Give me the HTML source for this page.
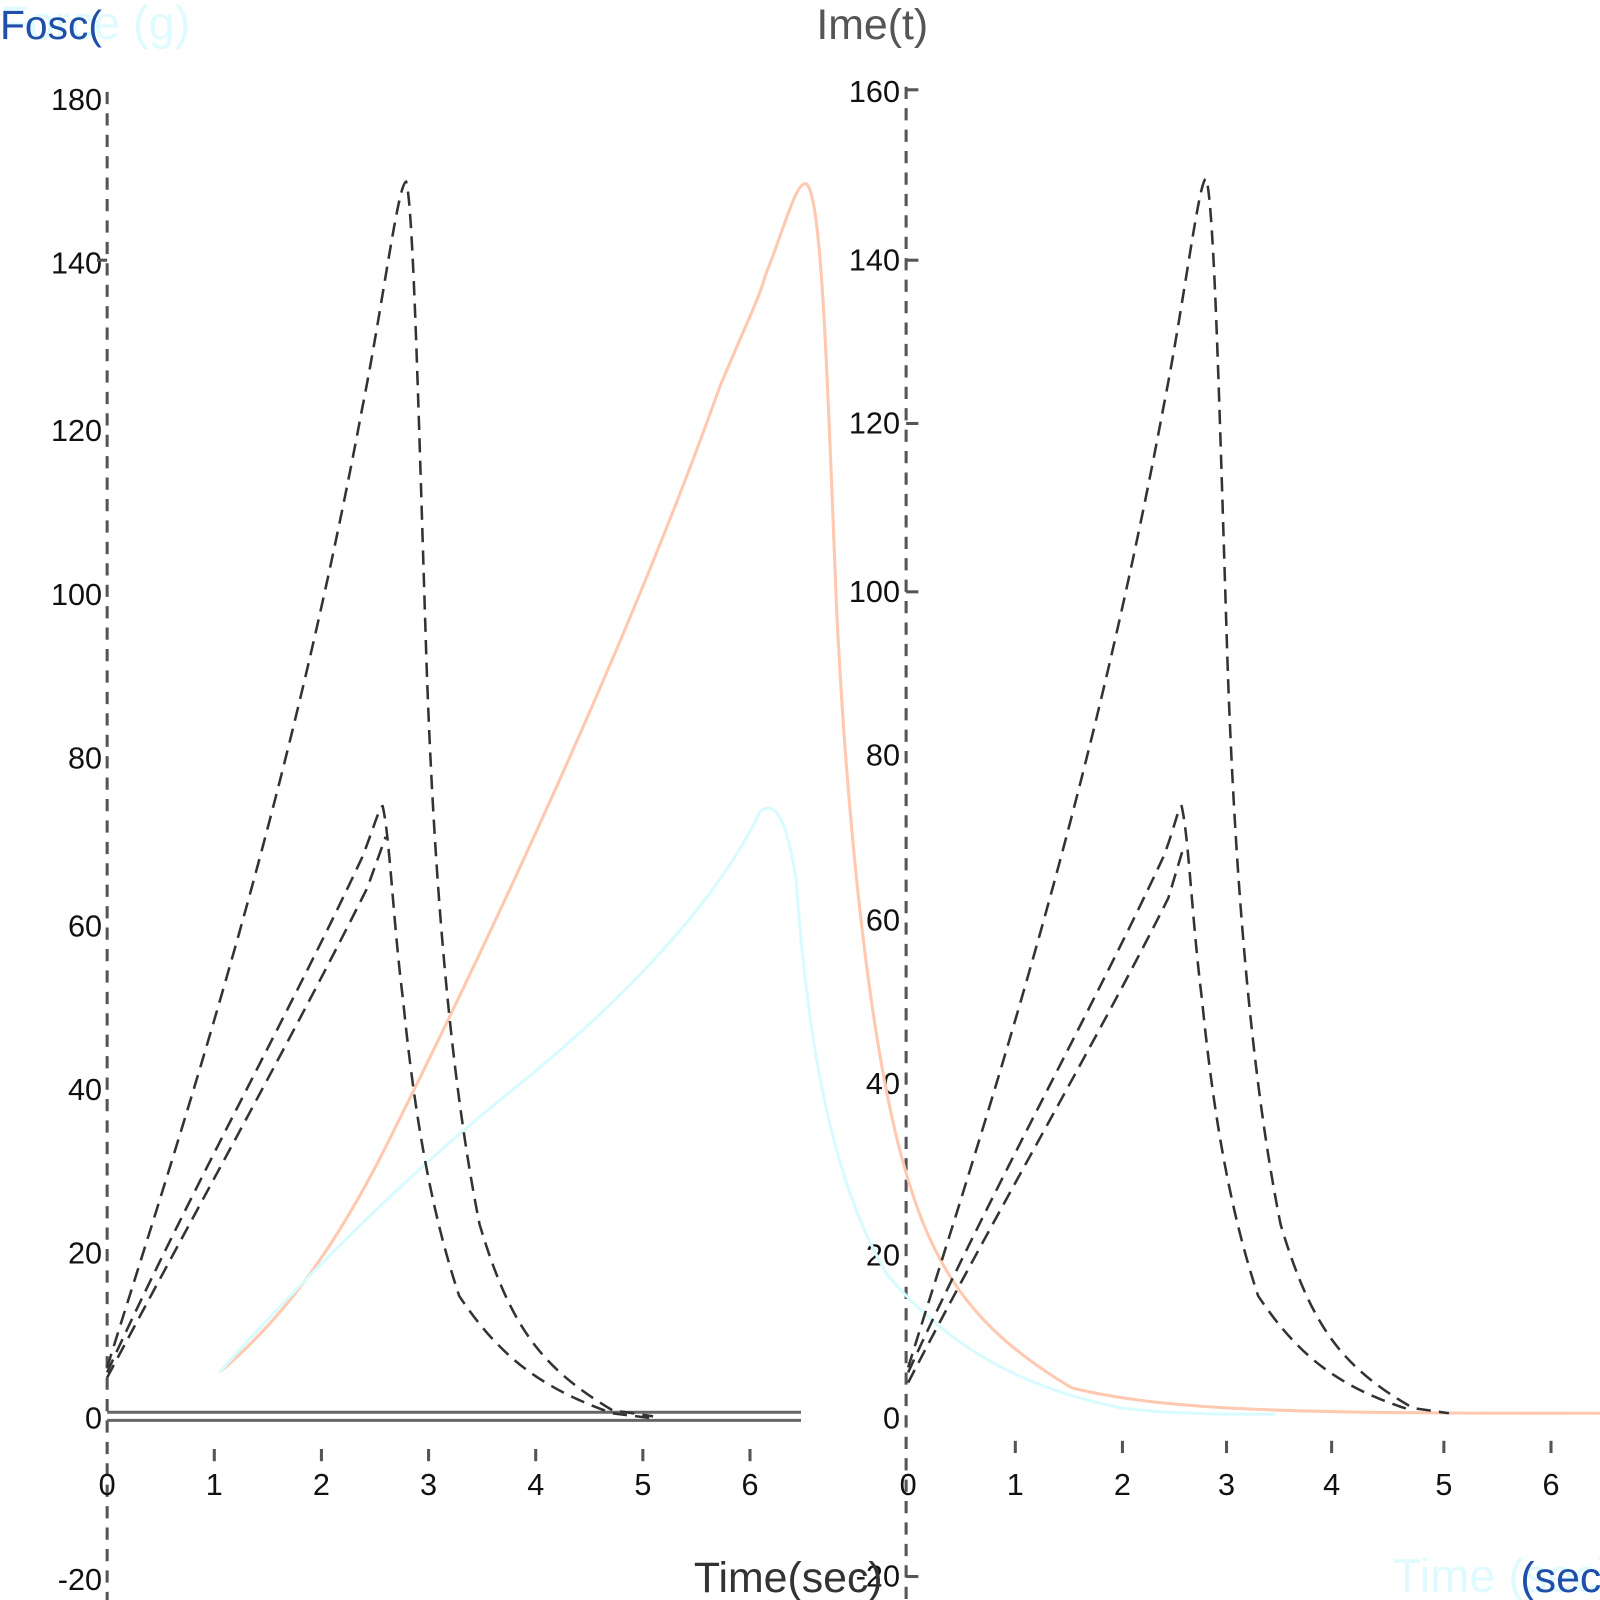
<!DOCTYPE html>
<html><head><meta charset="utf-8"><style>
body{margin:0;background:#fff}
svg{display:block;font-family:"Liberation Sans",sans-serif}
</style></head><body>
<svg width="1600" height="1600" viewBox="0 0 1600 1600" xmlns="http://www.w3.org/2000/svg">
<rect width="1600" height="1600" fill="#fff"/>
<g transform="scale(1.0204)">
<text x="0" y="38" font-size="46" fill="#e0fbff">Force (g)</text>
<text x="0" y="38" font-size="40" fill="#1f4fa8">Fosc(</text>
<text x="800" y="38" font-size="42" fill="#555">Ime(t)</text>
<g stroke="#555" stroke-width="3" stroke-dasharray="12,9" fill="none">
<line x1="105" y1="90" x2="105" y2="1600"/>
<line x1="888" y1="85" x2="888" y2="1600"/>
</g>
<g stroke="#666" stroke-width="3">
<line x1="105" y1="1384" x2="785" y2="1384"/>
<line x1="105" y1="1392" x2="785" y2="1392"/>
</g>
<g font-size="30" fill="#111" text-anchor="end">
<text x="100" y="108">180</text><text x="100" y="268">140</text><text x="100" y="432">120</text>
<text x="100" y="593">100</text><text x="100" y="753">80</text><text x="100" y="918">60</text>
<text x="100" y="1078">40</text><text x="100" y="1238">20</text><text x="100" y="1400">0</text>
<text x="100" y="1558">-20</text>
<text x="882" y="100">160</text><text x="882" y="265">140</text><text x="882" y="425">120</text>
<text x="882" y="590">100</text><text x="882" y="750">80</text><text x="882" y="912">60</text>
<text x="882" y="1072">40</text><text x="882" y="1240">20</text><text x="882" y="1400">0</text>
<text x="882" y="1555">-20</text>
</g>
<g stroke="#555" stroke-width="3">
<line x1="888" y1="88" x2="900" y2="88"/><line x1="888" y1="255" x2="900" y2="255"/>
<line x1="888" y1="415" x2="900" y2="415"/><line x1="888" y1="580" x2="900" y2="580"/>
<line x1="888" y1="1545" x2="900" y2="1545"/><line x1="95" y1="255" x2="105" y2="255"/>
</g>
<g font-size="30" fill="#111" text-anchor="middle">
<text x="105" y="1465">0</text><text x="210" y="1465">1</text><text x="315" y="1465">2</text>
<text x="420" y="1465">3</text><text x="525" y="1465">4</text><text x="630" y="1465">5</text>
<text x="735" y="1465">6</text>
<text x="890" y="1465">0</text><text x="995" y="1465">1</text><text x="1100" y="1465">2</text>
<text x="1202" y="1465">3</text><text x="1305" y="1465">4</text><text x="1415" y="1465">5</text>
<text x="1520" y="1465">6</text>
</g>
<g stroke="#555" stroke-width="3">
<line x1="210" y1="1420" x2="210" y2="1432"/><line x1="315" y1="1420" x2="315" y2="1432"/>
<line x1="420" y1="1420" x2="420" y2="1432"/><line x1="525" y1="1420" x2="525" y2="1432"/>
<line x1="630" y1="1420" x2="630" y2="1432"/><line x1="735" y1="1420" x2="735" y2="1432"/>
<line x1="995" y1="1412" x2="995" y2="1424"/><line x1="1100" y1="1412" x2="1100" y2="1424"/>
<line x1="1202" y1="1412" x2="1202" y2="1424"/><line x1="1305" y1="1412" x2="1305" y2="1424"/>
<line x1="1415" y1="1412" x2="1415" y2="1424"/><line x1="1520" y1="1412" x2="1520" y2="1424"/>
</g>
<text x="680" y="1560" font-size="42" fill="#333">Time(sec)</text>
<text x="1365" y="1560" font-size="46" fill="#e0fbff">Time (sec)</text>
<text x="1490" y="1560" font-size="42" fill="#1f4fa8">(sec)</text>
<path d="M215,1345 C280,1290 330,1220 380,1120 C480,920 620,620 705,380 C730,320 745,290 750,270 C770,220 780,178 790,180 C805,190 810,350 820,600 C830,800 850,1000 880,1120 C910,1240 950,1300 1050,1360 C1150,1385 1300,1385 1600,1385" fill="none" stroke="#ffc8b0" stroke-width="3"/>
<path d="M215,1345 C300,1250 400,1150 500,1070 C600,990 700,890 745,795 C760,785 770,800 780,860 C790,1000 810,1150 870,1250 C930,1320 1000,1360 1100,1380 C1150,1386 1200,1386 1250,1386" fill="none" stroke="#d8fbff" stroke-width="3"/>
<g fill="none" stroke="#333" stroke-width="2.5" stroke-dasharray="14,8">
<path d="M105,1340 C180,1100 280,800 355,400 C375,300 390,180 398,178 C405,200 410,400 418,650 C425,850 440,1050 470,1200 C500,1300 530,1340 600,1382 L640,1388"/>
<path d="M105,1345 C180,1180 290,980 355,840 C365,815 372,790 375,790 C382,820 385,900 395,980 C405,1080 420,1180 450,1270 C490,1330 530,1360 600,1385 L640,1390"/>
<path d="M105,1350 C190,1190 290,1010 360,870 L378,820"/>
<path d="M890,1340 C965,1100 1065,800 1140,400 C1160,300 1175,175 1182,175 C1190,200 1195,400 1203,650 C1210,850 1225,1050 1255,1200 C1285,1300 1315,1340 1385,1380 L1420,1385"/>
<path d="M890,1345 C965,1180 1075,980 1140,840 C1150,815 1155,790 1158,790 C1165,820 1168,900 1178,980 C1188,1080 1203,1180 1233,1270 C1273,1330 1313,1360 1383,1382"/>
<path d="M890,1355 C975,1190 1075,1020 1145,880 L1160,830"/>
</g>
</g>
</svg>
</body></html>
